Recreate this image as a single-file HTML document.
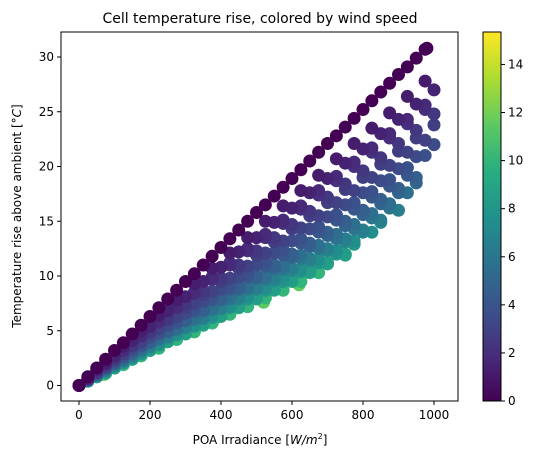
<!DOCTYPE html>
<html><head><meta charset="utf-8"><style>
body{margin:0;background:#fff;}
text{font-family:"DejaVu Sans","Liberation Sans",sans-serif;fill:#000;}
</style></head><body>
<svg id="chart" width="538" height="461" xmlns="http://www.w3.org/2000/svg">
<defs><linearGradient id="vir" x1="0" y1="1" x2="0" y2="0">
<stop offset="0" stop-color="#440154"/><stop offset="0.125" stop-color="#472d7b"/><stop offset="0.25" stop-color="#3b528b"/><stop offset="0.375" stop-color="#2c728e"/><stop offset="0.5" stop-color="#21918c"/><stop offset="0.625" stop-color="#28ae80"/><stop offset="0.75" stop-color="#5ec962"/><stop offset="0.875" stop-color="#addc30"/><stop offset="1" stop-color="#fde725"/></linearGradient>
<clipPath id="pc"><rect x="61" y="32" width="397" height="369"/></clipPath></defs>
<text x="260" y="23" font-size="14" text-anchor="middle">Cell temperature rise, colored by wind speed</text>
<g id="points" clip-path="url(#pc)"></g>
<rect x="61" y="32" width="397" height="369" fill="none" stroke="#000" stroke-width="1"/>
<g id="axes"></g>
<text x="260" y="444" font-size="12" text-anchor="middle">POA Irradiance [<tspan font-style="italic">W/m</tspan><tspan font-size="8" dy="-5">2</tspan><tspan dy="5">]</tspan></text>
<text transform="translate(21,216) rotate(-90)" font-size="12" text-anchor="middle">Temperature rise above ambient [°<tspan font-style="italic">C</tspan>]</text>
<rect x="483" y="32" width="18" height="369" fill="url(#vir)" stroke="#000" stroke-width="1"/>
</svg>
<script>
const xTicks=[0,200,400,600,800,1000];
const yTicks=[0,5,10,15,20,25,30];
const cTicks=[0,2,4,6,8,10,12,14];
const windMax=15.35;
const groupWind=[0,0,1.2,1.5,1.8,2,2.5,2.8,3,3.5,3.8,4.2,4.6,5,5.5,6,6.5,7,7.5,8,8.5,9,10,11.5];
const groupG=[
[0,50,100,150,200,250,300,350,400,450,500,550,600,650,700,750,800,850,900,950,980],
[25,75,125,175,225,275,325,375,425,475,525,575,625,675,725,775,825,875,925,975],
[25,75,125,175,225,275,325,375,425,475,525,575,625,675,725,775,825,875,925,975],
[0,50,100,150,200,250,300,350,400,450,500,550,600,650,700,750,800,850,900,950,1000],
[25,75,125,175,225,275,325,375,425,475,525,575,625,675,725,775,825,875,925,975],
[25,75,125,175,225,275,325,375,425,475,525,575,625,675,725,775,825,875,925,975],
[0,50,100,150,200,250,300,350,400,450,500,550,600,650,700,750,800,850,900,950,1000],
[50,100,150,200,250,300,350,400,450,500,550,600,650,700,750,800,850,900,950,1000],
[25,75,125,175,225,275,325,375,425,475,525,575,625,675,725,775,825,875,925,975],
[50,100,150,200,250,300,350,400,450,500,550,600,650,700,750,800,850,900,950,1000],
[25,75,125,175,225,275,325,375,425,475,525,575,625,675,725,775,825,875,925,975],
[25,75,125,175,225,275,325,375,425,475,525,575,625,675,725,775,825,875,925],
[50,100,150,200,250,300,350,400,450,500,550,600,650,700,750,800,850,900,950],
[50,100,150,200,250,300,350,400,450,500,550,600,650,700,750,800,850,900,950],
[25,75,125,175,225,275,325,375,425,475,525,575,625,675,725,775,825,875,925],
[25,75,125,175,225,275,325,375,425,475,525,575,625,675,725,775,825,875],
[50,100,150,200,250,300,350,400,450,500,550,600,650,700,750,800,850,900],
[50,100,150,200,250,300,350,400,450,500,550,600,650,700,750,800,850],
[25,75,125,175,225,275,325,375,425,475,525,575,625,675,725,775,825],
[25,75,125,175,225,275,325,375,425,475,525,575,625,675,725,775],
[50,100,150,200,250,300,350,400,450,500,550,600,650,700,750],
[50,100,150,200,250,300,350,400,450,500,550,600,650,700,750],
[25,75,125,175,225,275,325,375,425,475,525,575,625,675],
[70,380,520,620,625,640]];
const groupT=[
[0,1.6,3.2,4.7,6.3,7.9,9.5,11.0,12.6,14.2,15.8,17.3,18.9,20.5,22.1,23.6,25.2,26.8,28.4,29.9,30.8],
[0.8,2.4,3.9,5.5,7.1,8.7,10.2,11.8,13.4,15.0,16.5,18.1,19.7,21.3,22.8,24.4,26.0,27.6,29.1,30.7],
[0.7,2.1,3.6,5.0,6.4,7.8,9.3,10.7,12.1,13.5,15.0,16.4,17.8,19.2,20.7,22.1,23.5,24.9,26.4,27.8],
[0,1.4,2.7,4.1,5.4,6.8,8.1,9.5,10.8,12.2,13.5,14.9,16.2,17.6,18.9,20.3,21.6,23.0,24.3,25.7,27.0],
[0.7,2.0,3.3,4.6,5.9,7.2,8.5,9.9,11.2,12.5,13.8,15.1,16.4,17.8,19.1,20.4,21.7,23.0,24.3,25.6],
[0.6,1.9,3.2,4.5,5.8,7.1,8.4,9.7,11.0,12.3,13.5,14.8,16.1,17.4,18.7,20.0,21.3,22.6,23.9,25.2],
[0,1.2,2.5,3.7,4.9,6.1,7.4,8.6,9.8,11.0,12.3,13.5,14.7,15.9,17.2,18.4,19.6,20.8,22.1,23.3,24.8],
[1.2,2.4,3.6,4.8,6.0,7.1,8.3,9.5,10.7,11.9,13.1,14.3,15.5,16.7,17.9,19.0,20.2,21.4,22.6,23.8],
[0.6,1.7,2.9,4.0,5.2,6.3,7.5,8.6,9.8,10.9,12.1,13.2,14.4,15.5,16.7,17.8,19.0,20.1,21.3,22.4],
[1.1,2.2,3.3,4.4,5.5,6.6,7.7,8.8,9.9,11,12.1,13.2,14.3,15.4,16.5,17.6,18.7,19.8,20.9,22],
[0.5,1.6,2.7,3.8,4.8,5.9,7.0,8.1,9.1,10.2,11.3,12.4,13.4,14.5,15.6,16.7,17.7,18.8,19.9,21.0],
[0.5,1.6,2.6,3.6,4.7,5.7,6.8,7.8,8.8,9.9,10.9,11.9,13.0,14.0,15.1,16.1,17.2,18.2,19.2],
[1.0,2.0,3.0,4.0,5.0,6.0,7.0,8.0,9.0,10.0,11.0,12.0,13.0,14.0,15.0,16.0,17.0,18.0,19.0],
[1.0,2.0,2.9,3.9,4.9,5.9,6.8,7.8,8.8,9.8,10.7,11.7,12.7,13.7,14.6,15.6,16.6,17.6,18.5],
[0.5,1.4,2.4,3.3,4.3,5.2,6.2,7.1,8.1,9.0,10.0,10.9,11.9,12.8,13.8,14.7,15.7,16.6,17.6],
[0.5,1.4,2.3,3.2,4.2,5.1,6.0,6.9,7.9,8.8,9.7,10.6,11.6,12.5,13.4,14.3,15.3,16.2],
[0.9,1.8,2.7,3.6,4.5,5.3,6.2,7.1,8.0,8.9,9.8,10.7,11.6,12.5,13.4,14.2,15.1,16.0],
[0.9,1.8,2.6,3.5,4.4,5.3,6.1,7.0,7.9,8.8,9.6,10.5,11.4,12.3,13.1,14.0,14.9],
[0.4,1.3,2.1,3.0,3.8,4.7,5.5,6.4,7.2,8.1,8.9,9.8,10.6,11.5,12.3,13.2,14.0],
[0.4,1.2,2.1,2.9,3.7,4.6,5.4,6.2,7.1,7.9,8.7,9.5,10.4,11.2,12.0,12.9],
[0.8,1.6,2.4,3.2,4.0,4.8,5.6,6.4,7.2,8.0,8.8,9.6,10.4,11.2,12.0],
[0.8,1.6,2.4,3.2,4.0,4.7,5.5,6.3,7.1,7.9,8.7,9.5,10.3,11.1,11.9],
[0.4,1.1,1.9,2.7,3.4,4.2,4.9,5.7,6.5,7.2,8.0,8.7,9.5,10.3],
[1.0,6.0,7.6,9.2,10.0,11.0]];
const NS="http://www.w3.org/2000/svg";
const xs=v=>79+v*(434-79)/1000;
const ys=v=>385.5-v*(385.5-57)/30;
const cs=v=>401-v*369/windMax;
const stops=["#440154","#472d7b","#3b528b","#2c728e","#21918c","#28ae80","#5ec962","#addc30","#fde725"];
function hx(h){return [1,3,5].map(i=>parseInt(h.substr(i,2),16));}
function vir(w){let t=Math.max(0,Math.min(1,w/windMax))*8;let i=Math.min(7,Math.floor(t));let f=t-i;let a=hx(stops[i]),b=hx(stops[i+1]);return "rgb("+a.map((c,k)=>Math.round(c+(b[k]-c)*f)).join(",")+")";}
const pg=document.getElementById('points');
for(let gi=groupWind.length-1;gi>=0;gi--){const w=groupWind[gi];groupG[gi].forEach((g,i)=>{
 const c=document.createElementNS(NS,'circle');
 
 
 c.setAttribute('cx',xs(g));c.setAttribute('cy',ys(groupT[gi][i]));c.setAttribute('r',6.5);c.setAttribute('fill',vir(w));
 pg.appendChild(c);});}
const ax=document.getElementById('axes');
function ln(x1,y1,x2,y2){const l=document.createElementNS(NS,'line');l.setAttribute('x1',x1);l.setAttribute('y1',y1);l.setAttribute('x2',x2);l.setAttribute('y2',y2);l.setAttribute('stroke','#000');ax.appendChild(l);return l;}
function tx(x,y,s,anchor){const t=document.createElementNS(NS,'text');t.setAttribute('x',x);t.setAttribute('y',y);t.setAttribute('font-size','12');t.setAttribute('text-anchor',anchor);t.textContent=s;ax.appendChild(t);return t;}
xTicks.forEach(v=>{const l=ln(xs(v),401,xs(v),405);


const t=tx(xs(v),419,v,'middle');

});
yTicks.forEach(v=>{const l=ln(57,ys(v),61,ys(v));


const t=tx(54,ys(v)+4,v,'end');

});
cTicks.forEach(v=>{const l=ln(501,cs(v),505,cs(v));


const t=tx(508,cs(v)+4,v,'start');

});
</script>
</body></html>
